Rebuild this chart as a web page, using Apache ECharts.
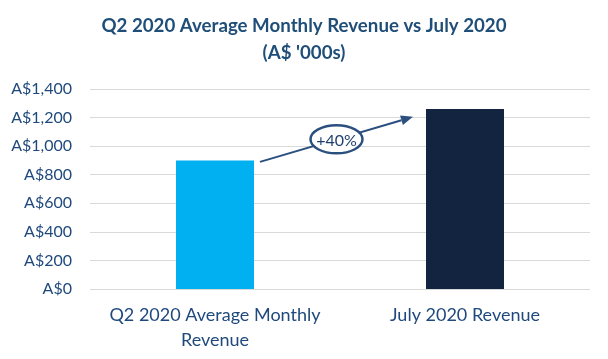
<!DOCTYPE html>
<html><head><meta charset="utf-8">
<script src="https://cdn.jsdelivr.net/npm/echarts@6/dist/echarts.min.js"></script>
<style>html,body{margin:0;padding:0;background:#fff}#c{width:608px;height:359px}</style>
</head><body><div id="c"></div>
<script>
var categories = ["Q2 2020 Average Monthly\nRevenue", "July 2020 Revenue"];
var values = [900, 1260];
var barColors = ["#00B0F0", "#12243F"];
var changeLabel = "+40%";
var arrowFrom = 890, arrowTo = 1205;

var chart = echarts.init(document.getElementById('c'));
var font = "Lato, 'Open Sans', sans-serif";
chart.setOption({
  animation: false,
  title: {
    text: "Q2 2020 Average Monthly Revenue vs July 2020\n(A$ '000s)",
    left: 'center', top: 7,
    textStyle: {color: '#1F4E79', fontSize: 18.7, fontWeight: 'bold', fontFamily: font, lineHeight: 27}
  },
  grid: {left: 90, right: 18, top: 89, bottom: 70},
  xAxis: {
    type: 'category', data: categories,
    axisLine: {show: false}, axisTick: {show: false},
    axisLabel: {interval: 0, hideOverlap: false, color: '#1F497D', fontSize: 18, fontFamily: font, lineHeight: 25, margin: 14}
  },
  yAxis: {
    type: 'value', min: 0, max: 1400, interval: 200,
    axisLabel: {color: '#1F497D', fontSize: 16, fontFamily: font, margin: 18,
      formatter: function(v){ return 'A$' + v.toLocaleString('en-US'); }},
    splitLine: {lineStyle: {color: '#D9D9D9', width: 1}},
    axisLine: {show: false}, axisTick: {show: false}
  },
  series: [{
    type: 'bar', barWidth: 78,
    data: values.map(function(v, i){ return {value: v, itemStyle: {color: barColors[i]}}; })
  }]
});

function drawArrow(){
  var x0 = chart.convertToPixel({xAxisIndex: 0}, 0) + 45;
  var x1 = chart.convertToPixel({xAxisIndex: 0}, 1) - 52;
  var y0 = chart.convertToPixel({yAxisIndex: 0}, arrowFrom);
  var y1 = chart.convertToPixel({yAxisIndex: 0}, arrowTo);
  var ang = Math.atan2(y1 - y0, x1 - x0);
  var hl = 12, hw = 5;
  var bx = x1 - hl * Math.cos(ang), by = y1 - hl * Math.sin(ang);
  var px = -Math.sin(ang) * hw, py = Math.cos(ang) * hw;
  var cx = (x0 + x1) / 2, cy = (y0 + y1) / 2;
  chart.setOption({graphic: [
    {type: 'line', shape: {x1: x0, y1: y0, x2: bx, y2: by}, style: {stroke: '#2B4F7E', lineWidth: 2}, z: 10},
    {type: 'polygon', shape: {points: [[x1, y1], [bx + px, by + py], [bx - px, by - py]]}, style: {fill: '#2B4F7E'}, z: 10},
    {type: 'ellipse', shape: {cx: cx, cy: cy, rx: 26, ry: 14}, style: {fill: '#fff', stroke: '#2B4F7E', lineWidth: 2.5}, z: 11},
    {type: 'text', x: cx, y: cy + 1, style: {text: changeLabel, fill: '#1F3F6E', fontSize: 16, fontFamily: font, align: 'center', verticalAlign: 'middle'}, z: 12}
  ]});
}
drawArrow();
</script></body></html>
